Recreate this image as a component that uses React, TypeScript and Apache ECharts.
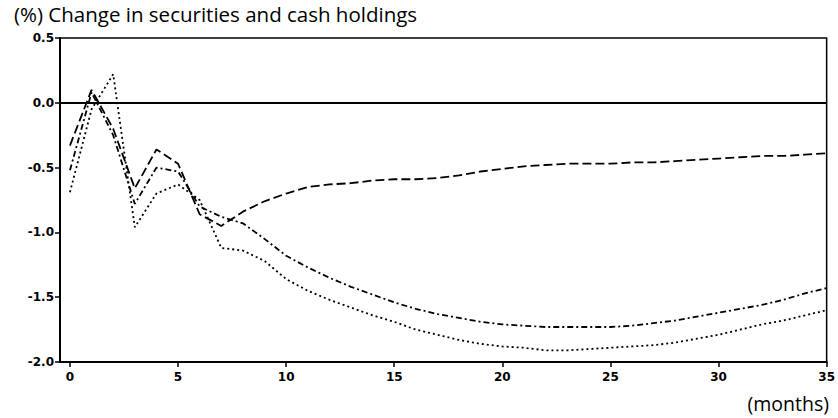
import React, { useEffect, useRef } from "react";
import * as echarts from "echarts";

const months = Array.from({ length: 36 }, (_, i) => i);

const seriesDashed = [
  -0.33, 0.10, -0.20, -0.66, -0.36, -0.47, -0.86, -0.95, -0.84, -0.76,
  -0.70, -0.65, -0.63, -0.62, -0.60, -0.59, -0.59, -0.58, -0.56, -0.53,
  -0.51, -0.49, -0.48, -0.47, -0.47, -0.47, -0.46, -0.46, -0.45, -0.44,
  -0.43, -0.42, -0.41, -0.41, -0.40, -0.39,
];

const seriesDashDot = [
  -0.52, 0.08, -0.25, -0.78, -0.50, -0.53, -0.80, -0.88, -0.93, -1.05,
  -1.18, -1.27, -1.35, -1.42, -1.48, -1.54, -1.59, -1.63, -1.66, -1.69,
  -1.71, -1.72, -1.73, -1.73, -1.73, -1.73, -1.72, -1.70, -1.68, -1.65,
  -1.62, -1.59, -1.56, -1.52, -1.47, -1.43,
];

const seriesDotted = [
  -0.69, -0.05, 0.22, -0.96, -0.70, -0.63, -0.75, -1.12, -1.14, -1.22,
  -1.36, -1.45, -1.52, -1.58, -1.64, -1.69, -1.75, -1.79, -1.83, -1.86,
  -1.88, -1.89, -1.91, -1.91, -1.90, -1.89, -1.88, -1.87, -1.85, -1.82,
  -1.79, -1.75, -1.71, -1.68, -1.64, -1.60,
];

const xTicks = [0, 5, 10, 15, 20, 25, 30, 35];
const yTicks = [-2.0, -1.5, -1.0, -0.5, 0.0, 0.5];
const title = "(%) Change in securities and cash holdings";
const xUnit = "(months)";

export default function App() {
  const ref = useRef<HTMLDivElement>(null);
  useEffect(() => {
    const chart = echarts.init(ref.current!, null, { renderer: "svg" });
    const pair = (arr: number[]) => months.map((m, i) => [m, arr[i]]);
    const lineSeries = (name: string, data: number[], dash: number[]) => ({
      name,
      type: "line",
      data: pair(data),
      showSymbol: false,
      symbol: "none",
      lineStyle: { color: "#000", width: 1.8, type: dash },
      z: 3,
    });
    chart.setOption({
      animation: false,
      backgroundColor: "#fff",
      grid: {
        left: 60,
        top: 38,
        right: 10,
        bottom: 56,
        show: true,
        borderColor: "#000",
        borderWidth: 1.5,
      },
      graphic: [
        {
          type: "text",
          left: 14,
          top: 3,
          style: { text: title, font: "20.5px 'Open Sans'", fill: "#000" },
        },
        {
          type: "text",
          right: 9,
          top: 393,
          style: { text: xUnit, font: "19.5px 'Open Sans'", fill: "#000" },
        },
      ],
      xAxis: {
        type: "value",
        min: -0.46,
        max: 35,
        axisLine: { show: true, onZero: false, lineStyle: { color: "#000", width: 2 } },
        axisTick: {
          show: true,
          customValues: xTicks,
          length: 5,
          lineStyle: { color: "#000", width: 1.5 },
        },
        minorTick: { show: false },
        axisLabel: {
          customValues: xTicks,
          formatter: (v: number) => String(v),
          color: "#000",
          fontFamily: "DejaVu Sans",
          fontSize: 12,
          fontWeight: "bold",
          margin: 9,
        },
        splitLine: { show: false },
      },
      yAxis: {
        type: "value",
        min: -2.0,
        max: 0.5,
        interval: 0.5,
        axisLine: { show: true, onZero: false, lineStyle: { color: "#000", width: 2 } },
        axisTick: { show: true, length: 5, lineStyle: { color: "#000", width: 1.5 } },
        axisLabel: {
          customValues: yTicks,
          formatter: (v: number) => v.toFixed(1),
          color: "#000",
          fontFamily: "DejaVu Sans",
          fontSize: 12,
          fontWeight: "bold",
          margin: 6,
        },
        splitLine: { show: false },
      },
      series: [
        {
          ...lineSeries("dashed", seriesDashed, [9, 4]),
          markLine: {
            silent: true,
            symbol: "none",
            label: { show: false },
            lineStyle: { color: "#000", width: 1.8, type: "solid" },
            data: [{ yAxis: 0 }],
          },
        },
        lineSeries("dashdot", seriesDashDot, [6, 3, 2, 3]),
        lineSeries("dotted", seriesDotted, [2, 3]),
      ],
    });
    return () => chart.dispose();
  }, []);
  return (
    <div
      ref={ref}
      style={{ position: "fixed", left: 0, top: 0, width: 838, height: 418 }}
    />
  );
}
